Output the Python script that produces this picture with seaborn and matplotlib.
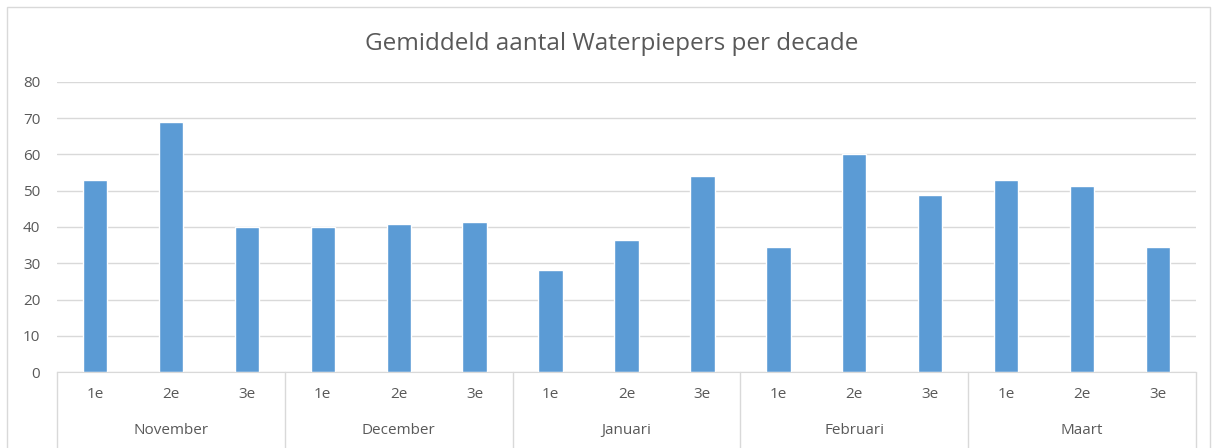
import matplotlib
matplotlib.use("Agg")
import matplotlib.pyplot as plt
import matplotlib.transforms as mtransforms
from matplotlib.patches import Rectangle
import pandas as pd
import seaborn as sns

# ========== DATA ==========
maanden = ["November", "December", "Januari", "Februari", "Maart"]
decades = ["1e", "2e", "3e"]
waarden = [53, 69, 40,
           40, 40.7, 41.5,
           28.2, 36.5, 54.2,
           34.4, 60, 48.8,
           53, 51.2, 34.4]
titel = "Gemiddeld aantal Waterpiepers per decade"

sleutels = [f"{m}-{d}" for m in maanden for d in decades]
df = pd.DataFrame({"sleutel": sleutels, "aantal": waarden})

# ========== STYLE ==========
sns.set_style("white")
plt.rcParams["font.family"] = ["Open Sans", "DejaVu Sans"]
grijs = "#D9D9D9"
tekst = "#595959"
blauw = "#5B9BD5"

fig = plt.figure(figsize=(12.12, 4.48), dpi=100)
ax = fig.add_axes([57 / 1212, 76 / 448, (1196 - 57) / 1212, 290 / 448])

sns.barplot(data=df, x="sleutel", y="aantal", order=sleutels, color=blauw,
            width=0.32, saturation=1, ax=ax)

ax.set_ylim(0, 80)
ax.set_xlim(-0.5, len(sleutels) - 0.5)
ax.set_yticks(range(0, 81, 10))
ax.yaxis.grid(True, color=grijs, linewidth=1)
ax.set_axisbelow(True)
for kant in ["top", "right", "left"]:
    ax.spines[kant].set_visible(False)
ax.spines["bottom"].set_color(grijs)
ax.set_xlabel("")
ax.set_ylabel("")
ax.tick_params(axis="y", length=0, labelsize=11, labelcolor=tekst, pad=12)
ax.set_xticks(range(len(sleutels)))
ax.set_xticklabels(decades * len(maanden))
ax.tick_params(axis="x", length=0, labelsize=11, labelcolor=tekst, pad=11)

# maandlabels en scheidingslijnen
trans = mtransforms.blended_transform_factory(ax.transData, ax.transAxes)
for i, m in enumerate(maanden):
    ax.text(i * 3 + 1, -0.2, m, transform=trans, ha="center", va="center",
            fontsize=11, color=tekst)
for i in range(len(maanden) + 1):
    ax.plot([i * 3 - 0.5, i * 3 - 0.5], [0, -0.27], transform=trans,
            color=grijs, linewidth=1, clip_on=False)

fig.text(612 / 1212, 1 - 44 / 448, titel, ha="center", va="center",
         fontsize=17.5, color=tekst)

# rand rond de grafiek
fig.patches.append(Rectangle((7 / 1212, -0.05), 1203 / 1212, 1 - 7 / 448 + 0.05,
                             transform=fig.transFigure, fill=False,
                             edgecolor=grijs, linewidth=1))

fig.savefig("out.png", dpi=100)
plt.close(fig)
